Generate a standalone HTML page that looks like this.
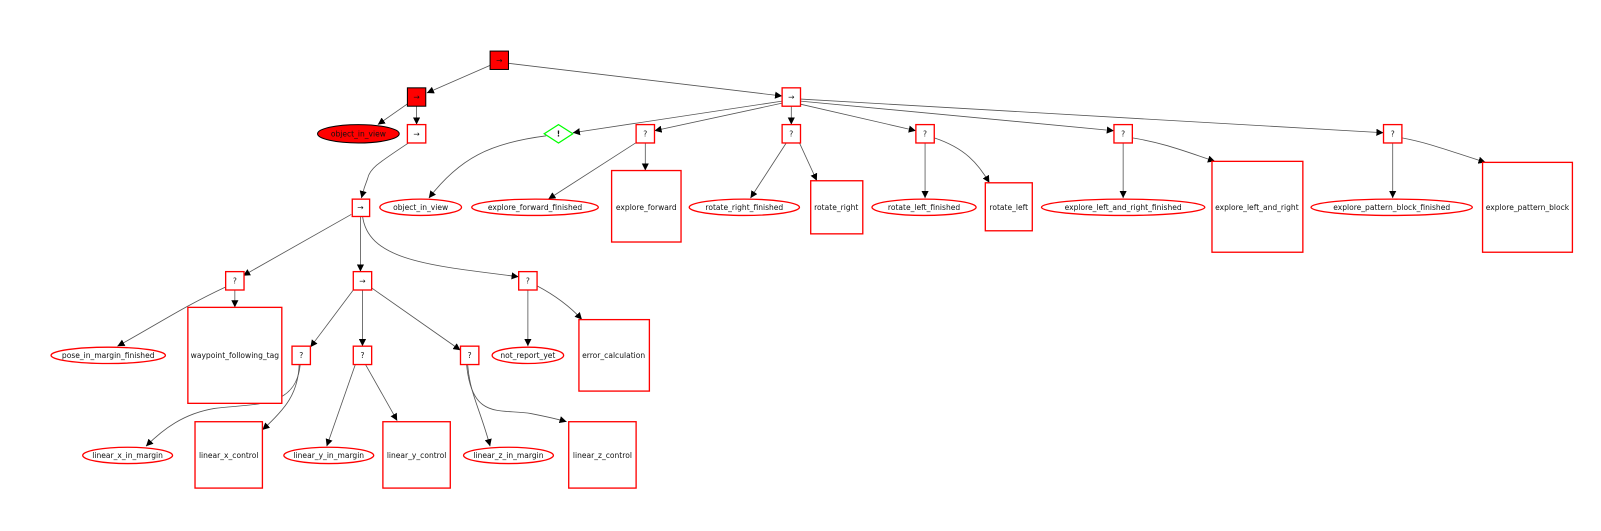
<!DOCTYPE html>
<html><head><meta charset="utf-8"><style>
html,body{margin:0;padding:0;background:#fff;width:1601px;height:531px;overflow:hidden}
svg{display:block}
text{font-family:"DejaVu Sans","Liberation Sans",sans-serif;font-size:7.4px;fill:#111;text-anchor:middle;dominant-baseline:central}
.b{fill:#fff;stroke:#f00;stroke-width:1.3}
.e{fill:none;stroke:#555;stroke-width:0.8;marker-end:url(#a)}
</style></head><body>
<svg width="1601" height="531" viewBox="0 0 1568 520" xmlns="http://www.w3.org/2000/svg">
<defs><marker id="a" viewBox="0 0 10 10" refX="10" refY="5" markerWidth="7" markerHeight="7" orient="auto" markerUnits="userSpaceOnUse"><path d="M0,0L10,5L0,10z" fill="#000"/></marker></defs>
<path class="e" d="M480,64 L418,91"/>
<path class="e" d="M498,62 L766,94"/>
<path class="e" d="M400,101 L370,122"/>
<path class="e" d="M408,104 L408,122"/>
<path class="e" d="M400,140 C370,160 362,165 360,175 C356,185 355,190 354,194"/>
<path class="e" d="M766,99 L561,130"/>
<path class="e" d="M766,101 L641,128"/>
<path class="e" d="M775,104 L775,122"/>
<path class="e" d="M784,102 L897,128"/>
<path class="e" d="M784,99 L1091,128"/>
<path class="e" d="M784,97 L1355,130"/>
<path class="e" d="M535,133 C480,140 450,155 420,194"/>
<path class="e" d="M624,139 L537,195"/>
<path class="e" d="M632,140 L632,167"/>
<path class="e" d="M770,140 L735,194"/>
<path class="e" d="M783,140 L800,177"/>
<path class="e" d="M906,140 L906,194"/>
<path class="e" d="M915,135 C945,145 958,160 969,179"/>
<path class="e" d="M1100,140 L1100,194"/>
<path class="e" d="M1109,135 C1140,140 1160,148 1190,158"/>
<path class="e" d="M1364,140 L1364,194"/>
<path class="e" d="M1373,135 C1400,140 1420,148 1455,159"/>
<path class="e" d="M344,210 L238,270"/>
<path class="e" d="M353,211 L353,266"/>
<path class="e" d="M355,211 C360,255 420,260 508,271"/>
<path class="e" d="M221,281 C180,300 150,320 115,339"/>
<path class="e" d="M230,284 L230,301"/>
<path class="e" d="M346,284 L304,340"/>
<path class="e" d="M355,284 L355,339"/>
<path class="e" d="M364,282 L451,343"/>
<path class="e" d="M517,284 L517,339"/>
<path class="e" d="M526,280 C545,290 558,300 570,313"/>
<path class="e" d="M294,357 C290,400 250,395 210,400 C180,405 160,420 143,437"/>
<path class="e" d="M293,357 C292,385 280,400 257,421"/>
<path class="e" d="M348,357 L320,437"/>
<path class="e" d="M358,357 L389,412"/>
<path class="e" d="M458,357 C460,385 470,400 480,437"/>
<path class="e" d="M457,357 C462,412 490,400 520,405 C535,408 545,410 555,413"/>
<rect x="480" y="50" width="18" height="18" fill="#f00" stroke="#000" stroke-width="1"/><text x="489" y="59">→</text>
<rect x="399" y="86" width="18" height="18" fill="#f00" stroke="#000" stroke-width="1"/><text x="408" y="95">→</text>
<ellipse cx="351" cy="131" rx="40" ry="9" fill="#f00" stroke="#000" stroke-width="1"/><text x="351" y="131">object_in_view</text>
<rect class="b" x="399" y="122" width="18" height="18"/><text x="408" y="131">→</text>
<rect class="b" x="345" y="195" width="17" height="17"/><text x="353" y="203">→</text>
<ellipse class="b" cx="412" cy="203" rx="40" ry="8"/><text x="412" y="203">object_in_view</text>
<rect class="b" x="766" y="86" width="18" height="18"/><text x="775" y="95">→</text>
<polygon points="547,122 561,131 547,140 533,131" fill="#fff" stroke="#0f0" stroke-width="1.2"/><text x="547" y="131" style="font-weight:bold">!</text>
<rect class="b" x="623" y="122" width="18" height="18"/><text x="632" y="131">?</text>
<ellipse class="b" cx="524" cy="203" rx="62" ry="8"/><text x="524" y="203">explore_forward_finished</text>
<rect class="b" x="599" y="167" width="68" height="70"/><text x="633" y="203">explore_forward</text>
<rect class="b" x="766" y="122" width="18" height="18"/><text x="775" y="131">?</text>
<ellipse class="b" cx="729" cy="203" rx="54" ry="8"/><text x="729" y="203">rotate_right_finished</text>
<rect class="b" x="794" y="177" width="51" height="52"/><text x="819" y="203">rotate_right</text>
<rect class="b" x="897" y="122" width="18" height="18"/><text x="906" y="131">?</text>
<ellipse class="b" cx="905" cy="203" rx="51" ry="8"/><text x="905" y="203">rotate_left_finished</text>
<rect class="b" x="965" y="179" width="46" height="47"/><text x="988" y="203">rotate_left</text>
<rect class="b" x="1091" y="122" width="18" height="18"/><text x="1100" y="131">?</text>
<ellipse class="b" cx="1100" cy="203" rx="80" ry="8"/><text x="1100" y="203">explore_left_and_right_finished</text>
<rect class="b" x="1187" y="158" width="89" height="89"/><text x="1231" y="203">explore_left_and_right</text>
<rect class="b" x="1355" y="122" width="18" height="18"/><text x="1364" y="131">?</text>
<ellipse class="b" cx="1363" cy="203" rx="79" ry="8"/><text x="1363" y="203">explore_pattern_block_finished</text>
<rect class="b" x="1452" y="159" width="88" height="88"/><text x="1496" y="203">explore_pattern_block</text>
<rect class="b" x="221" y="266" width="18" height="18"/><text x="230" y="275">?</text>
<ellipse class="b" cx="106" cy="348" rx="56" ry="8"/><text x="106" y="348">pose_in_margin_finished</text>
<rect class="b" x="184" y="301" width="92" height="94"/><text x="230" y="348">waypoint_following_tag</text>
<rect class="b" x="346" y="266" width="18" height="18"/><text x="355" y="275">→</text>
<rect class="b" x="508" y="266" width="18" height="18"/><text x="517" y="275">?</text>
<ellipse class="b" cx="517" cy="348" rx="35" ry="8"/><text x="517" y="348">not_report_yet</text>
<rect class="b" x="567" y="313" width="69" height="70"/><text x="601" y="348">error_calculation</text>
<rect class="b" x="286" y="339" width="18" height="18"/><text x="295" y="348">?</text>
<rect class="b" x="346" y="339" width="18" height="18"/><text x="355" y="348">?</text>
<rect class="b" x="451" y="339" width="18" height="18"/><text x="460" y="348">?</text>
<ellipse class="b" cx="125" cy="446" rx="44" ry="8"/><text x="125" y="446">linear_x_in_margin</text>
<rect class="b" x="191" y="413" width="66" height="65"/><text x="224" y="446">linear_x_control</text>
<ellipse class="b" cx="322" cy="446" rx="44" ry="8"/><text x="322" y="446">linear_y_in_margin</text>
<rect class="b" x="375" y="413" width="66" height="65"/><text x="408" y="446">linear_y_control</text>
<ellipse class="b" cx="498" cy="446" rx="44" ry="8"/><text x="498" y="446">linear_z_in_margin</text>
<rect class="b" x="557" y="413" width="66" height="65"/><text x="590" y="446">linear_z_control</text>
</svg>
</body></html>
